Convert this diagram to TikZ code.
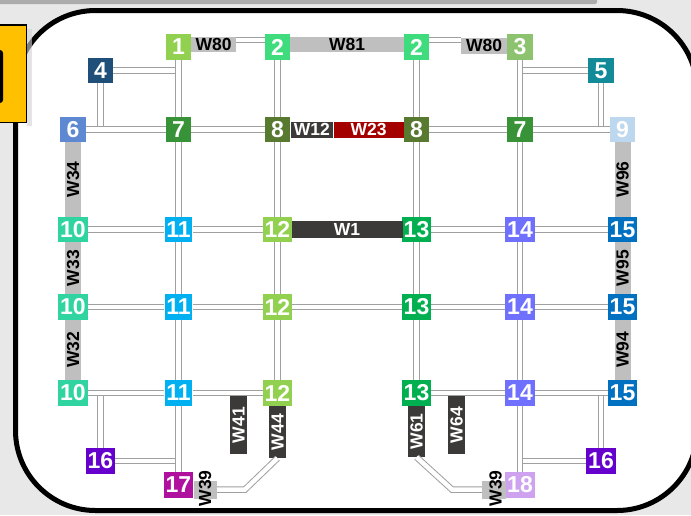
\documentclass[tikz,border=0pt]{standalone}
\usepackage{fontspec}
\setmainfont{Liberation Sans}
\usetikzlibrary{calc}
\definecolor{c1}{HTML}{92D050}
\definecolor{c2}{HTML}{3EDC7C}
\definecolor{c3}{HTML}{8DC36E}
\definecolor{c4}{HTML}{1F4E79}
\definecolor{c5}{HTML}{138A98}
\definecolor{c6}{HTML}{5F88D2}
\definecolor{c7}{HTML}{389238}
\definecolor{c8}{HTML}{587A30}
\definecolor{c9}{HTML}{BDD7EE}
\definecolor{c10}{HTML}{30D4A0}
\definecolor{c11}{HTML}{00B0F0}
\definecolor{c12}{HTML}{92D050}
\definecolor{c13}{HTML}{00B050}
\definecolor{c14}{HTML}{7070FF}
\definecolor{c15}{HTML}{0070C0}
\definecolor{c16}{HTML}{6600CC}
\definecolor{c17}{HTML}{B0109E}
\definecolor{c18}{HTML}{CFA2F0}
\definecolor{railc}{HTML}{A0A0A0}
\definecolor{barg}{HTML}{BFBFBF}
\definecolor{bard}{HTML}{3C3A38}
\definecolor{barr}{HTML}{A50000}
\definecolor{orng}{HTML}{FFC000}
\definecolor{bgc}{HTML}{E8E8E8}
\tikzset{
  nd/.style={fill=#1, text=white, font=\bfseries\fontsize{23}{23}\selectfont,
    minimum width=25.5pt, minimum height=25.5pt, inner xsep=1.8pt, inner ysep=0pt},
  rail/.style={draw=railc, line width=1pt, double=white, double distance=4.5pt},
  lbl/.style={font=\bfseries\fontsize{17.5}{17.5}\selectfont, inner sep=0pt},
  graybar/.style={lbl, fill=barg, text=black},
  darkbar/.style={lbl, fill=bard, text=white},
  redbar/.style={lbl, fill=barr, text=white},
  vgray/.style={graybar, rotate=90, minimum height=16pt},
  vdark/.style={darkbar, rotate=90, minimum height=17pt},
  vtxt/.style={lbl, rotate=90, text=black}
}
\begin{document}
\begin{tikzpicture}[x=1pt,y=-1pt]
\useasboundingbox (0,0) rectangle (691,515);
\fill[bgc] (0,0) rectangle (691,515);
\fill[gray!65, rounded corners=2pt] (-5,-5) rectangle (597,4);
% frame
\draw[line width=5pt, fill=white, rounded corners=80pt] (15.5,10.5) rectangle (697,510.5);
% orange tab
\fill[gray!35, opacity=0.6] (27,29) rectangle (32,126);
\draw[fill=orng, line width=1.5pt] (-5,25) rectangle (26.5,122.5);
\fill[black, rounded corners=3pt] (-10,50) rectangle (3,103);

% nodes
\node[nd=c1] (n1) at (178.5,47) {1};
\node[nd=c2] (n2a) at (277.5,47) {2};
\node[nd=c2] (n2b) at (416.5,47) {2};
\node[nd=c3] (n3) at (520,47) {3};
\node[nd=c4] (n4) at (100.5,70.5) {4};
\node[nd=c5] (n5) at (601,70.5) {5};
\node[nd=c6] (n6) at (73,129.5) {6};
\node[nd=c7] (n7a) at (178.5,129.5) {7};
\node[nd=c8] (n8a) at (277.5,129.5) {8};
\node[nd=c8] (n8b) at (416.5,129.5) {8};
\node[nd=c7] (n7b) at (520,129.5) {7};
\node[nd=c9] (n9) at (622.5,129.5) {9};
\foreach \r/\y in {a/229.5,b/307,c/393}{
  \node[nd=c10] (n10\r) at (73,\y) {10};
  \node[nd=c11] (n11\r) at (178.5,\y) {11};
  \node[nd=c12] (n12\r) at (277.5,\y) {12};
  \node[nd=c13] (n13\r) at (416.5,\y) {13};
  \node[nd=c14] (n14\r) at (520,\y) {14};
  \node[nd=c15] (n15\r) at (622.5,\y) {15};
}
\node[nd=c16] (n16a) at (100.5,461) {16};
\node[nd=c17] (n17) at (178.5,485) {17};
\node[nd=c16] (n16b) at (601,461) {16};
\node[nd=c18] (n18) at (520,485) {18};

% branch rails
\draw[rail] (n4) -- (n4 -| n1);
\draw[rail] (n4) -- (n4 |- n6);
\draw[rail] (n5) -- (n5 -| n3);
\draw[rail] (n5) -- (n5 |- n9);
\draw[rail] (n16a) -- (n16a |- n10c);
\draw[rail] (n16a) -- (n16a -| n17);
\draw[rail] (n16b) -- (n16b |- n15c);
\draw[rail] (n16b) -- (n16b -| n18);

% main rails
\draw[rail] (n1) -- (n7a) -- (n11a) -- (n11b) -- (n11c) -- (n17);
\draw[rail] (n2a) -- (n8a) -- (n12a) -- (n12b) -- (n12c);
\draw[rail] (n2b) -- (n8b) -- (n13a) -- (n13b) -- (n13c);
\draw[rail] (n3) -- (n7b) -- (n14a) -- (n14b) -- (n14c) -- (n18);
\draw[rail] (n6) -- (n7a) -- (n8a);
\draw[rail] (n8b) -- (n7b) -- (n9);
\draw[rail] (n10a) -- (n11a) -- (n12a);
\draw[rail] (n13a) -- (n14a) -- (n15a);
\draw[rail] (n10b) -- (n11b) -- (n12b) -- (n13b) -- (n14b) -- (n15b);
\draw[rail] (n10c) -- (n11c) -- (n12c);
\draw[rail] (n13c) -- (n14c) -- (n15c);

% top bars
\node[graybar, minimum width=45pt, minimum height=15pt] (w80a) at (213.5,44.5) {W80};
\node[graybar, minimum width=113.5pt, minimum height=15pt] (w81) at (347,44.5) {W81};
\node[graybar, minimum width=46pt, minimum height=16pt] (w80b) at (484,45.5) {W80};
\coordinate (r80a) at ([yshift=4.5pt]w80a.east);
\draw[rail] (r80a) -- (r80a -| n2a.west);
\coordinate (r80b) at ([yshift=7pt]n2b.east);
\draw[rail] (r80b) -- (r80b -| w80b.west);

% middle bars
\node[darkbar, anchor=west, minimum width=42.5pt, minimum height=16pt] (w12) at (n8a.east) {W12};
\node[redbar, anchor=west, minimum width=70pt, minimum height=16pt] (w23) at (w12.east) {W23};
\node[darkbar, minimum width=111pt, minimum height=17pt] (w1) at (347,229.5) {W1};

% side bars
\path (n6) -- (n10a) node[midway, vgray, minimum width=74.5pt] (w34) {W34};
\path (n10a) -- (n10b) node[midway, vgray, minimum width=52pt] (w33) {W33};
\path (n10b) -- (n10c) node[midway, vgray, minimum width=60.5pt] (w32) {W32};
\path (n9) -- (n15a) node[midway, vgray, minimum width=74.5pt] (w96) {W96};
\path (n15a) -- (n15b) node[midway, vgray, minimum width=52pt] (w95) {W95};
\path (n15b) -- (n15c) node[midway, vgray, minimum width=60.5pt] (w94) {W94};

% bottom bars
\node[vdark, minimum width=58pt] (w41) at (238.5,425) {W41};
\node[vdark, minimum width=52pt] (w44) at (277.5,432) {W44};
\node[vdark, minimum width=51pt] (w61) at (416.5,431.5) {W61};
\node[vdark, minimum width=58pt] (w64) at (456.5,425) {W64};
\node[fill=barg, minimum width=23pt, minimum height=18pt, inner sep=0pt] (w39a) at (205.5,489.5) {};
\node[fill=barg, minimum width=24pt, minimum height=18pt, inner sep=0pt] (w39b) at (494,489.5) {};
\node[vtxt] (w39at) at (205,488.5) {W39};
\node[vtxt] (w39bt) at (495.5,488.5) {W39};
\coordinate (kl) at (245,489.5);
\coordinate (kr) at (452,489.5);
\draw[rail] (w44.west) -- (kl) -- (w39a.east);
\draw[rail] (w61.west) -- (kr) -- (w39b.west);
\end{tikzpicture}
\end{document}
